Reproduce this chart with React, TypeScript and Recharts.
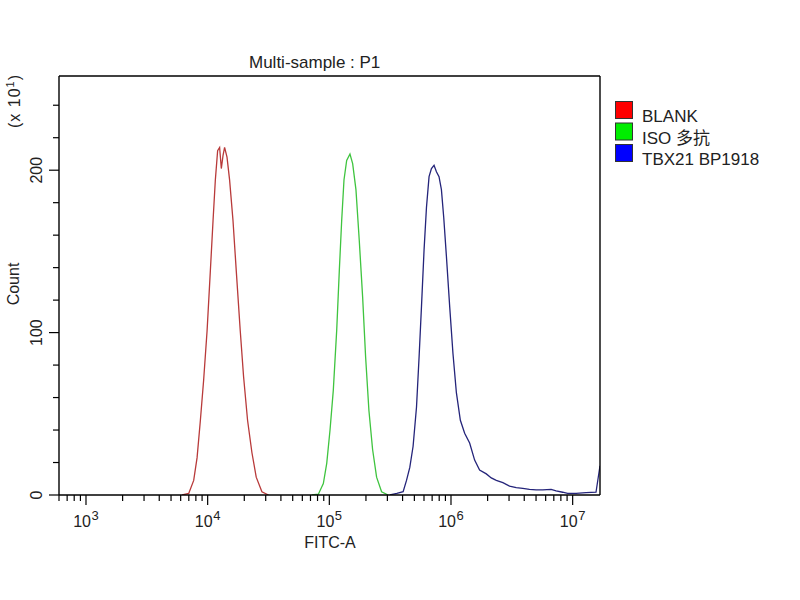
import React from 'react';
import { LineChart, Line, XAxis, YAxis, Legend } from 'recharts';

const FONT = '"Liberation Sans", Arial, "Noto Sans CJK SC", sans-serif';
const TEXT = '#222';

const seriesNames = ['BLANK', 'ISO 多抗', 'TBX21 BP1918'];
const lineColors = ['#b83a3a', '#3fc43f', '#24247a'];
const legendColors = ['#ff0000', '#00ee00', '#0000ff'];

const blankFitc = [6169, 6988, 7678, 8186, 8714, 9273, 9888, 10522, 11074, 11564, 12078, 12542, 12950, 13371, 13780, 14420, 15145, 16152, 17185, 18535, 19730, 21280, 23120, 25070, 27920, 31620];
const blankCount = [0, 1, 9, 23, 46, 71, 101, 138, 169, 194, 212, 214, 201, 209, 214, 208, 194, 169, 138, 101, 73, 46, 26, 11, 2, 0];

const isoFitc = [71740, 81250, 89290, 95210, 101330, 107840, 115000, 120780, 126360, 131980, 138860, 147790, 155510, 165510, 176130, 187800, 198740, 211560, 226810, 244650, 268900, 304500];
const isoCount = [0, 0.5, 7, 19.5, 40, 64.6, 101.5, 138, 169, 194, 206, 210, 204, 188, 157, 122, 85, 52, 28, 11, 2, 0];

const tbxFitc = [314500, 358800, 404300, 430900, 458600, 488100, 520500, 546700, 572000, 600800, 628600, 660200, 690700, 725500, 759100, 797300, 834200, 871400, 916900, 975700, 1038500, 1107400, 1194000, 1295100, 1423300, 1564300, 1718500, 1951000, 2143800, 2356000, 2669000, 3028000, 3437000, 3893000, 4417000, 5012000, 5678000, 6653000, 7310000, 8279000, 9100000, 10664000, 12877000, 15554000, 16777216];
const tbxCount = [0, 1, 2, 9, 17, 30, 54, 85, 116, 151, 177, 196, 201, 203, 199, 196, 188, 171, 147, 116, 87, 63, 46, 38, 32, 21.5, 15.4, 13, 10.5, 9, 7.6, 5.5, 4.5, 4.1, 3.5, 3.1, 3.1, 3.5, 2.5, 1.7, 1, 1, 1.4, 1.7, 18];

const xDomain = [600, 16777216];
const yDomain = [0, 258];

const xTicks = [
  600, 700, 800, 900,
  1000, 2000, 3000, 4000, 5000, 6000, 7000, 8000, 9000,
  10000, 20000, 30000, 40000, 50000, 60000, 70000, 80000, 90000,
  100000, 200000, 300000, 400000, 500000, 600000, 700000, 800000, 900000,
  1000000, 2000000, 3000000, 4000000, 5000000, 6000000, 7000000, 8000000, 9000000,
  10000000,
];
const yTicks = [0, 20, 40, 60, 80, 100, 120, 140, 160, 180, 200, 220, 240];
const yLabeled = [0, 100, 200];

const toRows = (xs: number[], ys: number[]) => xs.map((v, i) => ({ fitc: v, count: ys[i] }));
const blankData = toRows(blankFitc, blankCount);
const isoData = toRows(isoFitc, isoCount);
const tbxData = toRows(tbxFitc, tbxCount);

const XTick = (props: any) => {
  const { x, y, payload } = props;
  const v = payload.value as number;
  const lg = Math.log10(v);
  const e = Math.round(lg);
  const major = Math.abs(lg - e) < 1e-6;
  return (
    <g>
      <line x1={x} x2={x} y1={y} y2={y + (major ? 10 : 6)} stroke="#000" strokeWidth={1.2} />
      {major && (
        <text x={x + 5} y={y + 32} textAnchor="end" fontSize={16} fill={TEXT} fontFamily={FONT}>10</text>
      )}
      {major && (
        <text x={x + 5.5} y={y + 25} textAnchor="start" fontSize={13} fill={TEXT} fontFamily={FONT}>{e}</text>
      )}
    </g>
  );
};

const YTick = (props: any) => {
  const { x, y, payload } = props;
  const v = payload.value as number;
  const major = yLabeled.includes(v);
  const lx = x - 17;
  return (
    <g>
      <line x1={x - (major ? 10 : 6)} x2={x} y1={y} y2={y} stroke="#000" strokeWidth={1.2} />
      {major && (
        <text x={lx} y={y} transform={`rotate(-90, ${lx}, ${y})`} textAnchor="middle" fontSize={16} fill={TEXT} fontFamily={FONT}>{v}</text>
      )}
    </g>
  );
};

const LegendContent = (props: any) => {
  const payload = (props.payload || []) as any[];
  return (
    <svg width={180} height={70} style={{ display: 'block', overflow: 'visible' }}>
      {payload.map((item, i) => {
        const idx = seriesNames.indexOf(item.value);
        const top = i * 21.5;
        return (
          <g key={item.value}>
            <rect x={0.5} y={top + 0.5} width={17} height={17} fill={legendColors[idx >= 0 ? idx : i]} stroke="#333" strokeWidth={1} />
            <text x={27} y={top + 21} fontSize={17} fill={TEXT} fontFamily={FONT}>{item.value}</text>
          </g>
        );
      })}
    </svg>
  );
};

export default function App() {
  return (
    <div style={{ position: 'absolute', left: 0, top: 0, width: 800, height: 600, background: '#fff' }}>
      <LineChart width={800} height={600} margin={{ top: 75, right: 199, bottom: 50, left: 0 }}>
        <XAxis
          xAxisId="main"
          dataKey="fitc"
          type="number"
          scale="log"
          domain={xDomain}
          allowDataOverflow
          ticks={xTicks}
          interval={0}
          tick={XTick}
          tickLine={false}
          tickSize={0}
          tickMargin={0}
          height={55}
          axisLine={{ stroke: '#000', strokeWidth: 1.4 }}
          label={{
            content: () => (
              <text x={330} y={548} textAnchor="middle" fontSize={16} fill={TEXT} fontFamily={FONT}>FITC-A</text>
            ),
          }}
        />
        <XAxis
          xAxisId="top"
          orientation="top"
          type="number"
          scale="log"
          domain={xDomain}
          allowDataOverflow
          height={1}
          tick={false}
          tickLine={false}
          axisLine={{ stroke: '#000', strokeWidth: 1.4 }}
          label={{
            content: () => (
              <text x={249} y={68} textAnchor="start" fontSize={17} fill={TEXT} fontFamily={FONT}>Multi-sample : P1</text>
            ),
          }}
        />
        <YAxis
          yAxisId="main"
          type="number"
          domain={yDomain}
          allowDataOverflow
          ticks={yTicks}
          interval={0}
          tick={YTick}
          tickLine={false}
          tickSize={0}
          tickMargin={0}
          width={59}
          axisLine={{ stroke: '#000', strokeWidth: 1.4 }}
          label={{
            content: () => (
              <text x={18.5} y={284} transform="rotate(-90, 18.5, 284)" textAnchor="middle" fontSize={16} fill={TEXT} fontFamily={FONT}>Count</text>
            ),
          }}
        />
        <YAxis
          yAxisId="right"
          orientation="right"
          type="number"
          domain={yDomain}
          width={1}
          tick={false}
          tickLine={false}
          axisLine={{ stroke: '#000', strokeWidth: 1.4 }}
          label={{
            content: () => (
              <text x={20} y={101} transform="rotate(-90, 20, 101)" textAnchor="middle" fontSize={16} fill={TEXT} fontFamily={FONT} letterSpacing={1}>
                (x 10<tspan fontSize={11} dy={-6}>1</tspan><tspan dy={6}>)</tspan>
              </text>
            ),
          }}
        />
        <Legend
          layout="vertical"
          align="center"
          verticalAlign="middle"
          wrapperStyle={{ left: 615, top: 101, width: 180, height: 70 }}
          content={LegendContent}
        />
        <Line
          xAxisId="main"
          yAxisId="main"
          data={blankData}
          dataKey="count"
          name={seriesNames[0]}
          type="linear"
          stroke={lineColors[0]}
          strokeWidth={1.3}
          dot={false}
          isAnimationActive={false}
        />
        <Line
          xAxisId="main"
          yAxisId="main"
          data={isoData}
          dataKey="count"
          name={seriesNames[1]}
          type="linear"
          stroke={lineColors[1]}
          strokeWidth={1.3}
          dot={false}
          isAnimationActive={false}
        />
        <Line
          xAxisId="main"
          yAxisId="main"
          data={tbxData}
          dataKey="count"
          name={seriesNames[2]}
          type="linear"
          stroke={lineColors[2]}
          strokeWidth={1.3}
          dot={false}
          isAnimationActive={false}
        />
      </LineChart>
    </div>
  );
}
